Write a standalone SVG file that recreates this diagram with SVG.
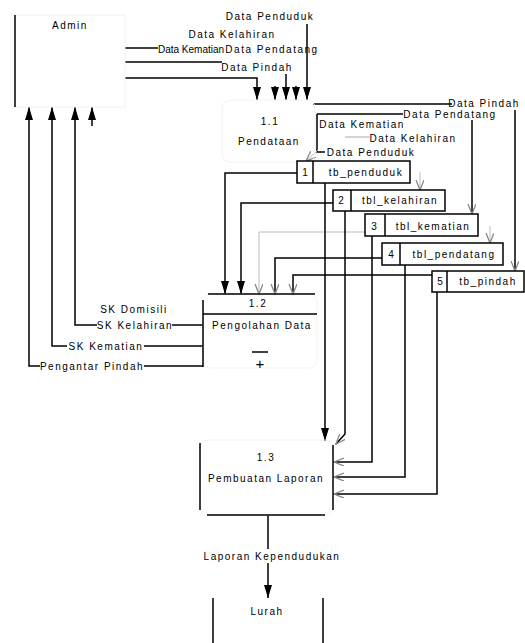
<svg xmlns="http://www.w3.org/2000/svg" width="525" height="643" viewBox="0 0 525 643">
<defs>
<marker id="a" markerUnits="userSpaceOnUse" markerWidth="14" markerHeight="10" refX="13" refY="4" orient="auto"><path d="M0,0 L13,4 L0,8 z" fill="#000"/></marker>
<marker id="v" markerUnits="userSpaceOnUse" markerWidth="12" markerHeight="10" refX="10" refY="4" orient="auto"><path d="M0,0 L10,4 L0,8" fill="none" stroke="#888" stroke-width="1.3"/></marker>
<style>
text{font-family:"Liberation Sans",Arial,sans-serif;font-size:10px;letter-spacing:1.5px;fill:#000;text-anchor:middle;dominant-baseline:central}
.l{fill:none;stroke:#000;stroke-width:1.5}
.g{fill:none;stroke:#aaa;stroke-width:1}
.f{fill:none;stroke:#000;stroke-width:1.5;marker-end:url(#a)}
.p{fill:none;stroke:#000;stroke-width:1.5;marker-end:url(#v)}
.q{fill:none;stroke:#bbb;stroke-width:1;marker-end:url(#v)}
.ghost{fill:none;stroke:#f2f2f2;stroke-width:1}
.st{fill:#fff;stroke:#000;stroke-width:1.5}
.bg{fill:#fff}
.n{letter-spacing:0}
</style>
</defs>
<rect width="525" height="643" fill="#fff"/>

<g id="connectors">
  <!-- Admin -> 1.1 -->
  <path class="l" d="M125,48 H158"/>
  <path class="l" d="M125,62 H222"/>
  <path class="f" d="M125,78 H257 V100"/>
  <path class="f" d="M307,24 V100"/>
  <path class="f" d="M286,74 V100"/>
  <path class="f" d="M275,86 V100"/>
  <path class="f" d="M296,86 V100"/>
  <text x="270" y="16">Data Penduduk</text>
  <text x="232" y="34">Data Kelahiran</text>
  <text x="191" y="49" class="n">Data Kematian</text>
  <text x="272" y="49">Data Pendatang</text>
  <text x="257" y="67">Data Pindah</text>

  <!-- 1.1 -> stores -->
  <path class="l" d="M313,104 H452"/>
  <path class="p" d="M515,110 V271"/>
  <text x="484" y="103">Data Pindah</text>
  <path class="l" d="M317,114 H403"/>
  <path class="p" d="M472,120 V214"/>
  <text x="450" y="114">Data Pendatang</text>
  <text x="362" y="124">Data Kematian</text>
  <path class="g" d="M345,137 H370"/>
  <text x="413" y="138">Data Kelahiran</text>
  <path class="l" d="M317,114 V152 H325"/>
  <text x="371" y="152">Data Penduduk</text>
  <path class="q" d="M420,172 V190"/>
  <path class="q" d="M490,226 V243"/>
  <path class="q" d="M318,150 L306,161"/>

  <!-- stores -> 1.2 -->
  <path class="f" d="M297,173 H225 V294"/>
  <path class="f" d="M333,203 H241 V294"/>
  <path class="q" d="M365,232 H259 V294"/>
  <path class="p" d="M382,258 H275 V294"/>
  <path class="p" d="M432,275 H293 V294"/>

  <!-- stores -> 1.3 -->
  <path class="f" d="M325,183 V441"/>
  <path class="p" d="M345,211 V434 L336,444"/>
  <path class="p" d="M372,236 V462 H334"/>
  <path class="p" d="M405,265 V477 H334"/>
  <path class="p" d="M437,292 V494 H334"/>

  <!-- 1.2 -> Admin -->
  <path class="f" d="M97,325 H75 V107"/>
  <path class="l" d="M172,325 H203"/>
  <text x="135" y="325">SK Kelahiran</text>
  <text x="134" y="309">SK Domisili</text>
  <path class="f" d="M92,126 V107"/>
  <path class="f" d="M67,346 H52 V107"/>
  <path class="l" d="M144,346 H203"/>
  <text x="106" y="346">SK Kematian</text>
  <path class="f" d="M40,366 H29 V107"/>
  <path class="l" d="M144,366 H203"/>
  <text x="92" y="366">Pengantar Pindah</text>

  <!-- 1.3 -> Lurah -->
  <path class="f" d="M268,515 V598"/>
  <rect class="bg" x="204" y="549" width="136" height="14"/>
  <text x="272" y="556">Laporan Kependudukan</text>
</g>

<g id="admin">
  <rect class="ghost" x="15" y="15" width="110" height="92"/>
  <path class="l" d="M15,15 V107"/>
  <text x="70" y="25">Admin</text>
</g>

<g id="p11">
  <rect class="ghost" x="222" y="100" width="93" height="62" rx="8"/>
  <text x="270" y="121">1.1</text>
  <text x="269" y="141">Pendataan</text>
</g>

<g id="p12">
  <rect class="ghost" x="203" y="294" width="114" height="74" rx="8"/>
  <path class="l" d="M208,294 H315 M203,314 H317 M203,300 V367"/>
  <text x="258" y="303">1.2</text>
  <text x="262" y="325">Pengolahan Data</text>
  <path class="l" d="M252,352 H268"/>
  <text x="260" y="363" class="n" style="font-size:15px">+</text>
</g>

<g id="p13">
  <rect class="ghost" x="200" y="440" width="133" height="75" rx="8"/>
  <path class="l" d="M200,443 V510 M207,515 H325 M333,445 V510"/>
  <text x="266" y="457">1.3</text>
  <text x="266" y="478">Pembuatan Laporan</text>
</g>

<g id="lurah">
  <path class="l" d="M213,598 V643 M323,598 V643"/>
  <text x="267" y="611">Lurah</text>
</g>

<g id="s1">
  <rect class="st" x="297" y="161" width="113" height="22"/>
  <path class="l" d="M313,161 V183"/>
  <text x="305" y="172" class="n">1</text>
  <text x="366" y="172">tb_penduduk</text>
</g>
<g id="s2">
  <rect class="st" x="333" y="190" width="112" height="21"/>
  <path class="l" d="M351,190 V211"/>
  <text x="341" y="200" class="n">2</text>
  <text x="400" y="200">tbl_kelahiran</text>
</g>
<g id="s3">
  <rect class="st" x="365" y="214" width="113" height="22"/>
  <path class="l" d="M385,214 V236"/>
  <text x="374" y="226" class="n">3</text>
  <text x="433" y="226">tbl_kematian</text>
</g>
<g id="s4">
  <rect class="st" x="382" y="243" width="121" height="22"/>
  <path class="l" d="M400,243 V265"/>
  <text x="391" y="254" class="n">4</text>
  <text x="454" y="254">tbl_pendatang</text>
</g>
<g id="s5">
  <rect class="st" x="432" y="271" width="92" height="21"/>
  <path class="l" d="M447,271 V292"/>
  <text x="440" y="281" class="n">5</text>
  <text x="488" y="281">tb_pindah</text>
</g>
</svg>
